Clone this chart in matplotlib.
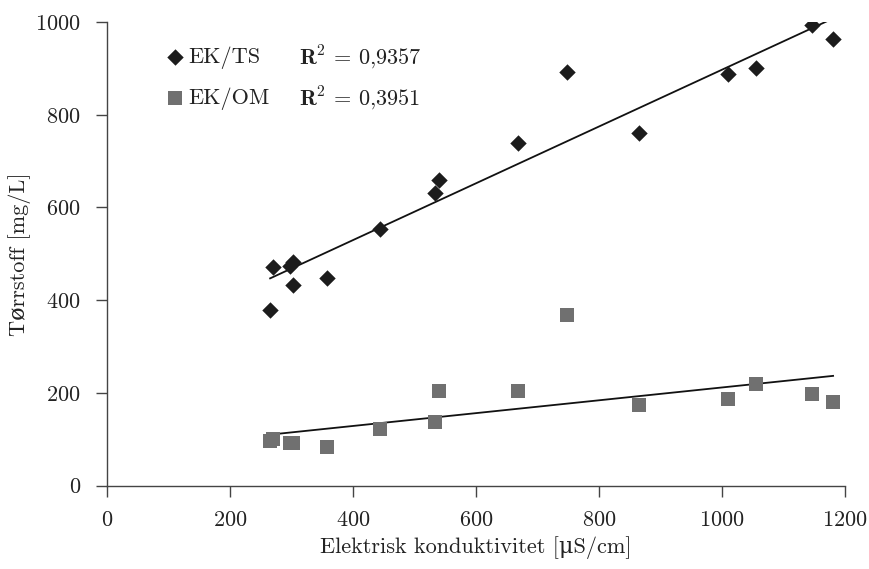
import numpy as np
import matplotlib
matplotlib.use("Agg")
import matplotlib.pyplot as plt

plt.rcParams['font.family'] = ['cmr10', 'DejaVu Serif']
plt.rcParams['mathtext.fontset'] = 'cm'
plt.rcParams['axes.formatter.use_mathtext'] = True

# konduktivitet (uS/cm) for hver prøve
ek = [265, 269, 298, 302, 302, 357, 443, 533, 539, 668, 748, 865, 1010, 1056, 1146, 1181]
# tørrstoff (mg/L)
ts = [378, 471, 474, 482, 432, 448, 554, 632, 660, 740, 892, 761, 888, 901, 993, 963]
# organisk materiale (mg/L)
om = [97, 101, 93, 93, 93, 84, 122, 138, 204, 204, 368, 175, 188, 219, 198, 180]

r2_labels = ['0,9357', '0,3951']

x = np.array(ek, dtype=float)
fs = 16

fig = plt.figure(figsize=(8.7, 5.69), dpi=100)
ax = fig.add_axes([0.1233, 0.1464, 0.8477, 0.8149])

ax.scatter(ek, ts, marker='D', s=70, color='#1c1c1c', linewidths=0, label='EK/TS', zorder=3)
ax.scatter(ek, om, marker='s', s=95, color='#707070', linewidths=0, label='EK/OM', zorder=3)

# lineære trendlinjer
xs = np.array([x.min(), x.max()])
for y in (ts, om):
    k, m = np.polyfit(x, y, 1)
    ax.plot(xs, k * xs + m, color='#111111', lw=1.3, zorder=2)

ax.set_xlim(0, 1200)
ax.set_ylim(0, 1000)
ax.set_xticks(range(0, 1201, 200))
ax.set_yticks(range(0, 1001, 200))

for s in ('top', 'right'):
    ax.spines[s].set_visible(False)
for s in ('left', 'bottom'):
    ax.spines[s].set_color('#444444')
    ax.spines[s].set_linewidth(1.0)
ax.tick_params(direction='out', length=8, width=1.0, color='#444444',
               labelsize=fs, labelcolor='#222222')
ax.tick_params(axis='y', pad=11)
ax.tick_params(axis='x', pad=10)

ax.set_xlabel('Elektrisk konduktivitet [\u03bcS/cm]', fontsize=fs, color='#222222', labelpad=4)
ax.set_ylabel('Tørrstoff [mg/L]', fontsize=fs, color='#222222', labelpad=3)

leg = ax.legend(loc='upper left', bbox_to_anchor=(0.065, 0.967), frameon=False,
                fontsize=fs, handletextpad=0.1, handlelength=1.0,
                labelspacing=0.85, borderaxespad=0)
for t in leg.get_texts():
    t.set_color('#222222')

for i, yy in enumerate((0.925, 0.835)):
    ax.text(0.26, yy, r'$\mathbf{R}^2$ = ' + r2_labels[i], transform=ax.transAxes,
            fontsize=fs, color='#222222', va='center')

fig.savefig('out.png', dpi=100)
